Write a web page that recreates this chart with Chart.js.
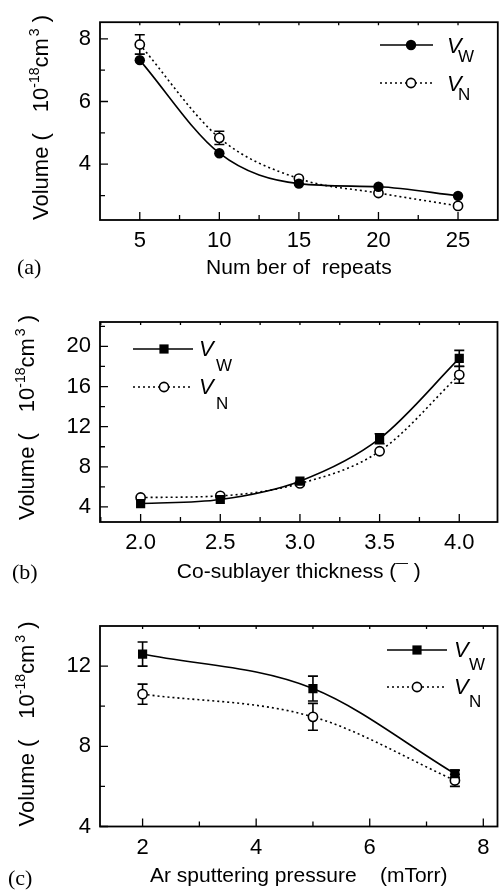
<!DOCTYPE html>
<html>
<head>
<meta charset="utf-8">
<script src="https://cdn.jsdelivr.net/npm/chart.js@4/dist/chart.umd.min.js"></script>
<style>
html,body{margin:0;padding:0;background:#fff;width:504px;height:892px;overflow:hidden;}
.p{position:absolute;left:0;width:504px;}
canvas{display:block;}
</style>
</head>
<body>
<div class="p" style="top:0px;height:290px"><canvas id="ca" width="504" height="290"></canvas></div>
<div class="p" style="top:290px;height:300px"><canvas id="cb" width="504" height="300"></canvas></div>
<div class="p" style="top:590px;height:302px"><canvas id="cc" width="504" height="302"></canvas></div>
<script>
// ---------- data ----------
const repeats = [5, 10, 15, 20, 25];
const repeatsVW = [7.32, 4.35, 3.38, 3.28, 2.99];
const repeatsVN = [7.82, 4.84, 3.54, 3.08, 2.67];
const repeatsVWErr = [0, 0, 0, 0, 0];
const repeatsVNErr = [0.31, 0.21, 0, 0, 0];
const repeatsXTicks = [5, 10, 15, 20, 25];
const repeatsYTicks = [4, 6, 8];

const thickness = [2.0, 2.5, 3.0, 3.5, 4.0];
const thicknessVW = [4.34, 4.74, 6.57, 10.8, 18.8];
const thicknessVN = [4.94, 5.1, 6.34, 9.55, 17.17];
const thicknessVWErr = [0, 0, 0, 0.5, 0.8];
const thicknessVNErr = [0, 0, 0, 0, 0.85];
const thicknessXTicks = [2.0, 2.5, 3.0, 3.5, 4.0];
const thicknessYTicks = [4, 8, 12, 16, 20];

const pressure = [2, 5, 7.5];
const pressureVW = [12.6, 10.88, 6.63];
const pressureVN = [10.6, 9.47, 6.3];
const pressureVWErr = [0.6, 0.62, 0.18];
const pressureVNErr = [0.5, 0.67, 0.3];
const pressureXTicks = [2, 4, 6, 8];
const pressureYTicks = [4, 8, 12];

const seriesNames = ['W', 'N'];

// ---------- drawing helpers ----------
const SANS = "'Liberation Sans', Arial, sans-serif";
const SERIF = "'Liberation Serif', 'Times New Roman', serif";

function drawMarker(ctx, style, x, y, r) {
  ctx.save();
  ctx.lineWidth = 1.6;
  ctx.strokeStyle = '#000';
  if (style === 'rect') {
    const s = r * Math.SQRT1_2;
    ctx.fillStyle = '#000';
    ctx.fillRect(x - s, y - s, 2 * s, 2 * s);
  } else if (style === 'filled') {
    ctx.fillStyle = '#000';
    ctx.beginPath(); ctx.arc(x, y, r, 0, Math.PI * 2); ctx.fill();
  } else {
    ctx.fillStyle = '#fff';
    ctx.beginPath(); ctx.arc(x, y, r, 0, Math.PI * 2); ctx.fill(); ctx.stroke();
  }
  ctx.restore();
}

function makeDecor(cfg) {
  return {
    id: 'decor',
    beforeDatasetsDraw(chart) {
      const ctx = chart.ctx, xs = chart.scales.x, ys = chart.scales.y;
      ctx.save();
      ctx.strokeStyle = '#000';
      ctx.lineWidth = 1.6;
      [cfg.vwErr, cfg.vnErr].forEach((errs, k) => {
        const vals = k === 0 ? cfg.vw : cfg.vn;
        errs.forEach((e, i) => {
          if (!e) return;
          const px = xs.getPixelForValue(cfg.x[i]);
          const top = ys.getPixelForValue(vals[i] + e);
          const bot = ys.getPixelForValue(vals[i] - e);
          ctx.beginPath();
          ctx.moveTo(px, top); ctx.lineTo(px, bot);
          ctx.moveTo(px - 5, top); ctx.lineTo(px + 5, top);
          ctx.moveTo(px - 5, bot); ctx.lineTo(px + 5, bot);
          ctx.stroke();
        });
      });
      ctx.restore();
    },
    afterDraw(chart) {
      const ctx = chart.ctx, a = chart.chartArea, xs = chart.scales.x, ys = chart.scales.y;
      ctx.save();
      ctx.strokeStyle = '#000';
      // frame
      ctx.lineWidth = 1.8;
      ctx.strokeRect(a.left, a.top, a.right - a.left, a.bottom - a.top);
      // inward ticks
      ctx.lineWidth = 1.3;
      const xt = cfg.xTicks, yt = cfg.yTicks;
      const xStep = xt[1] - xt[0], yStep = yt[1] - yt[0];
      const xMinor = [], yMinor = [];
      for (let v = xt[0] - xStep / 2; v < cfg.xMax; v += xStep) if (v > cfg.xMin + 1e-9) xMinor.push(v);
      for (let v = yt[0] - yStep / 2; v < cfg.yMax; v += yStep) if (v > cfg.yMin + 1e-9) yMinor.push(v);
      ctx.beginPath();
      xt.forEach(v => { const p = xs.getPixelForValue(v); ctx.moveTo(p, a.bottom); ctx.lineTo(p, a.bottom - 8); ctx.moveTo(p, a.top); ctx.lineTo(p, a.top + 3); });
      xMinor.forEach(v => { const p = xs.getPixelForValue(v); ctx.moveTo(p, a.bottom); ctx.lineTo(p, a.bottom - 5); ctx.moveTo(p, a.top); ctx.lineTo(p, a.top + 3); });
      yt.forEach(v => { const p = ys.getPixelForValue(v); ctx.moveTo(a.left, p); ctx.lineTo(a.left + 8, p); });
      yMinor.forEach(v => { const p = ys.getPixelForValue(v); ctx.moveTo(a.left, p); ctx.lineTo(a.left + 5, p); });
      ctx.stroke();

      // legend
      const L = cfg.legend;
      const styles = [cfg.wMarker, 'open'];
      const dashes = [[], [2, 3]];
      [L.y1, L.y2].forEach((y, k) => {
        ctx.save();
        ctx.lineWidth = 1.6;
        ctx.setLineDash(dashes[k]);
        ctx.beginPath(); ctx.moveTo(L.x1, y); ctx.lineTo(L.x2, y); ctx.stroke();
        ctx.restore();
        drawMarker(ctx, styles[k], L.mx, y, styles[k] === 'rect' ? 6.5 : (styles[k] === 'filled' ? 5.2 : 4.6));
        ctx.fillStyle = '#000';
        ctx.textAlign = 'left';
        ctx.textBaseline = 'alphabetic';
        ctx.font = 'italic 22px ' + SANS;
        ctx.fillText('V', L.tx, y + L.vdy);
        ctx.font = '17px ' + SANS;
        ctx.fillText(seriesNames[k], L.tx + L.sdx, y + L.vdy + L.sdy);
      });

      // y title
      const T = cfg.ytitle;
      ctx.save();
      ctx.translate(T.x, T.y);
      ctx.rotate(-Math.PI / 2);
      ctx.fillStyle = '#000';
      ctx.textAlign = 'left';
      ctx.textBaseline = 'alphabetic';
      const big = '22px ' + SANS, sup = '14px ' + SANS;
      let p = 0;
      ctx.font = big; ctx.fillText('Volume (', p, 0); p += ctx.measureText('Volume (').width + 21;
      ctx.fillText('10', p, 0); p += ctx.measureText('10').width;
      ctx.font = sup; ctx.fillText('-18', p, -9); p += ctx.measureText('-18').width;
      ctx.font = big; ctx.fillText('cm', p, 0); p += ctx.measureText('cm').width + 2;
      ctx.font = sup; ctx.fillText('3', p, -9); p += ctx.measureText('3').width + 6;
      ctx.font = big; ctx.fillText(')', p, 0);
      ctx.restore();

      // panel label
      ctx.fillStyle = '#000';
      ctx.font = '22px ' + SERIF;
      ctx.textAlign = 'left';
      ctx.textBaseline = 'alphabetic';
      ctx.fillText(cfg.label, cfg.labelX, cfg.labelY);
      ctx.restore();
    }
  };
}

function makePanel(id, cfg) {
  const ctx = document.getElementById(id).getContext('2d');
  const tickFont = { family: SANS, size: 22 };
  return new Chart(ctx, {
    type: 'line',
    data: {
      datasets: [
        {
          label: 'VW',
          data: cfg.x.map((v, i) => ({ x: v, y: cfg.vw[i] })),
          borderColor: '#000', borderWidth: 1.6,
          pointStyle: cfg.wMarker === 'rect' ? 'rect' : 'circle',
          pointRadius: cfg.wMarker === 'rect' ? 6.5 : 5.2,
          pointBackgroundColor: '#000', pointBorderColor: '#000', pointBorderWidth: 0,
          cubicInterpolationMode: 'monotone', fill: false
        },
        {
          label: 'VN',
          data: cfg.x.map((v, i) => ({ x: v, y: cfg.vn[i] })),
          borderColor: '#000', borderWidth: 1.6, borderDash: [2, 3],
          pointStyle: 'circle', pointRadius: 4.6,
          pointBackgroundColor: '#fff', pointBorderColor: '#000', pointBorderWidth: 1.6,
          cubicInterpolationMode: 'monotone', fill: false
        }
      ]
    },
    options: {
      responsive: false, animation: false, devicePixelRatio: 1,
      events: [],
      layout: { padding: { top: cfg.areaTop, right: 2, left: 0, bottom: 0 } },
      plugins: { legend: { display: false }, tooltip: { enabled: false } },
      scales: {
        x: {
          type: 'linear', min: cfg.xMin, max: cfg.xMax,
          afterBuildTicks: s => { s.ticks = cfg.xTicks.map(v => ({ value: v })); },
          afterFit: s => { s.height = cfg.canvasH - cfg.areaBottom; },
          grid: { display: false, drawTicks: false }, border: { display: false },
          ticks: {
            font: tickFont, color: '#000', padding: 8, maxRotation: 0, autoSkip: false,
            callback: v => cfg.xDecimals ? Number(v).toFixed(cfg.xDecimals) : String(v)
          },
          title: { display: true, text: cfg.xTitle, color: '#000', font: { family: SANS, size: 21 }, padding: { top: 0, bottom: cfg.xTitlePad } }
        },
        y: {
          type: 'linear', min: cfg.yMin, max: cfg.yMax,
          afterBuildTicks: s => { s.ticks = cfg.yTicks.map(v => ({ value: v })); },
          afterFit: s => { s.width = 100; },
          grid: { display: false, drawTicks: false }, border: { display: false },
          ticks: { font: tickFont, color: '#000', padding: 9, autoSkip: false }
        }
      }
    },
    plugins: [makeDecor(cfg)]
  });
}

makePanel('ca', {
  x: repeats, vw: repeatsVW, vn: repeatsVN, vwErr: repeatsVWErr, vnErr: repeatsVNErr,
  xTicks: repeatsXTicks, yTicks: repeatsYTicks,
  xMin: 2.5, xMax: 27.5, yMin: 2.22, yMax: 8.53, xDecimals: 0,
  xTitle: 'Num ber of  repeats', xTitlePad: 9,
  wMarker: 'filled', canvasH: 290, areaTop: 18, areaBottom: 220,
  legend: { x1: 380, x2: 433, mx: 411, y1: 45, y2: 83, tx: 447, vdy: 8, sdx: 11, sdy: 9 },
  ytitle: { x: 48, y: 220 },
  label: '(a)', labelX: 17, labelY: 274
});

makePanel('cb', {
  x: thickness, vw: thicknessVW, vn: thicknessVN, vwErr: thicknessVWErr, vnErr: thicknessVNErr,
  xTicks: thicknessXTicks, yTicks: thicknessYTicks,
  xMin: 1.745, xMax: 4.24, yMin: 2.5, yMax: 22.43, xDecimals: 1,
  xTitle: 'Co-sublayer thickness (¯ )', xTitlePad: 5.5,
  wMarker: 'rect', canvasH: 300, areaTop: 32, areaBottom: 232,
  legend: { x1: 133, x2: 193, mx: 164, y1: 59, y2: 97, tx: 199, vdy: 7, sdx: 17, sdy: 15 },
  ytitle: { x: 33.5, y: 230 },
  label: '(b)', labelX: 12, labelY: 289
});

makePanel('cc', {
  x: pressure, vw: pressureVW, vn: pressureVN, vwErr: pressureVWErr, vnErr: pressureVNErr,
  xTicks: pressureXTicks, yTicks: pressureYTicks,
  xMin: 1.25, xMax: 8.25, yMin: 4, yMax: 14, xDecimals: 0,
  xTitle: 'Ar sputtering pressure    (mTorr)', xTitlePad: 2.7,
  wMarker: 'rect', canvasH: 302, areaTop: 36, areaBottom: 236.5,
  legend: { x1: 387, x2: 447, mx: 417, y1: 60, y2: 97, tx: 454, vdy: 7, sdx: 15, sdy: 13 },
  ytitle: { x: 33.5, y: 236.5 },
  label: '(c)', labelX: 8, labelY: 295
});
</script>
</body>
</html>
